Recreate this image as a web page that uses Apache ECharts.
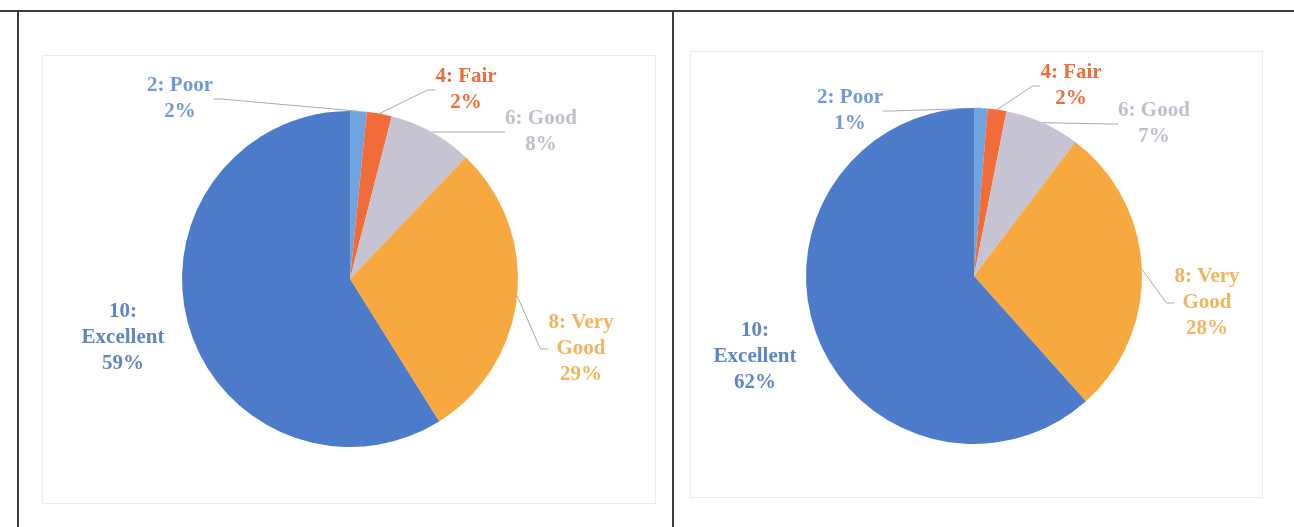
<!DOCTYPE html>
<html>
<head>
<meta charset="utf-8">
<title>Rating share</title>
<script src="https://cdn.jsdelivr.net/npm/echarts@6/dist/echarts.min.js"></script>
<style>
  html, body { margin: 0; padding: 0; background: #fff; }
  #wrap { position: relative; width: 1294px; height: 527px; overflow: hidden; }
  .rule { position: absolute; background: #3c3c3c; }
  .frame { position: absolute; border: 1px solid #ebebeb; }
  #main { position: absolute; left: 0; top: 0; width: 1294px; height: 527px; }
</style>
</head>
<body>
<div id="wrap">
  <div class="rule" style="left:0;top:10px;width:1294px;height:2px"></div>
  <div class="rule" style="left:17px;top:10px;width:2px;height:517px"></div>
  <div class="rule" style="left:672px;top:10px;width:2px;height:517px"></div>
  <div class="frame" style="left:42px;top:55px;width:612px;height:447px"></div>
  <div class="frame" style="left:690px;top:51px;width:571px;height:445px"></div>
  <div id="main"></div>
</div>
<script>
// rating categories, same order in both pies
const categories = ['2: Poor', '4: Fair', '6: Good', '8: Very\nGood', '10:\nExcellent'];

// share of answers (percent)
const leftShares = [1.6, 2.4, 8.1, 29.0, 58.9];
const rightShares = [1.3, 1.8, 7.2, 28.1, 61.6];

const sliceColors = ['#6ea5e0', '#f26c3a', '#c6c3d3', '#f7a83e', '#4c7bca'];
const labelColors = ['#6f9ad6', '#ee6d3c', '#c2bfcd', '#f2b45e', '#5e86c7'];

// where each label block sits, as offset from the pie centre
const pieCenters = [[350, 279], [974, 276]];
const labelOffsets = [
  [[-170, -180], [116, -189], [191, -147], [231, 70], [-227, 59]],
  [[-124, -165], [97, -190], [180, -152], [233, 27], [-219, 81]]
];

function buildData(shares) {
  return shares.map((v, i) => ({
    value: v,
    name: categories[i],
    itemStyle: { color: sliceColors[i] },
    label: { color: labelColors[i] },
    labelLine: { show: i !== 4 }
  }));
}

function pieSeries(idx, shares) {
  return {
    type: 'pie',
    center: pieCenters[idx],
    radius: 168,
    startAngle: 90,
    clockwise: true,
    percentPrecision: 0,
    animation: false,
    itemStyle: { borderWidth: 0 },
    label: {
      show: true,
      position: 'outside',
      formatter: '{b}\n{d}%',
      fontFamily: 'Liberation Serif',
      fontWeight: 'bold',
      fontSize: 21,
      lineHeight: 26,
      align: 'center'
    },
    labelLine: {
      show: true,
      length: 8,
      length2: 8,
      smooth: false,
      lineStyle: { color: '#a9a9ad', width: 1 }
    },
    labelLayout: function (params) {
      const c = pieCenters[idx];
      const o = labelOffsets[idx][params.dataIndex];
      return {
        x: c[0] + o[0],
        y: c[1] + o[1],
        align: 'center',
        verticalAlign: 'middle'
      };
    },
    emphasis: { disabled: true },
    data: buildData(shares)
  };
}

const myChart = echarts.init(document.getElementById('main'), null, { renderer: 'canvas' });

const option = {
  backgroundColor: 'transparent',
  series: [pieSeries(0, leftShares), pieSeries(1, rightShares)]
};

myChart.setOption(option);
</script>
</body>
</html>
